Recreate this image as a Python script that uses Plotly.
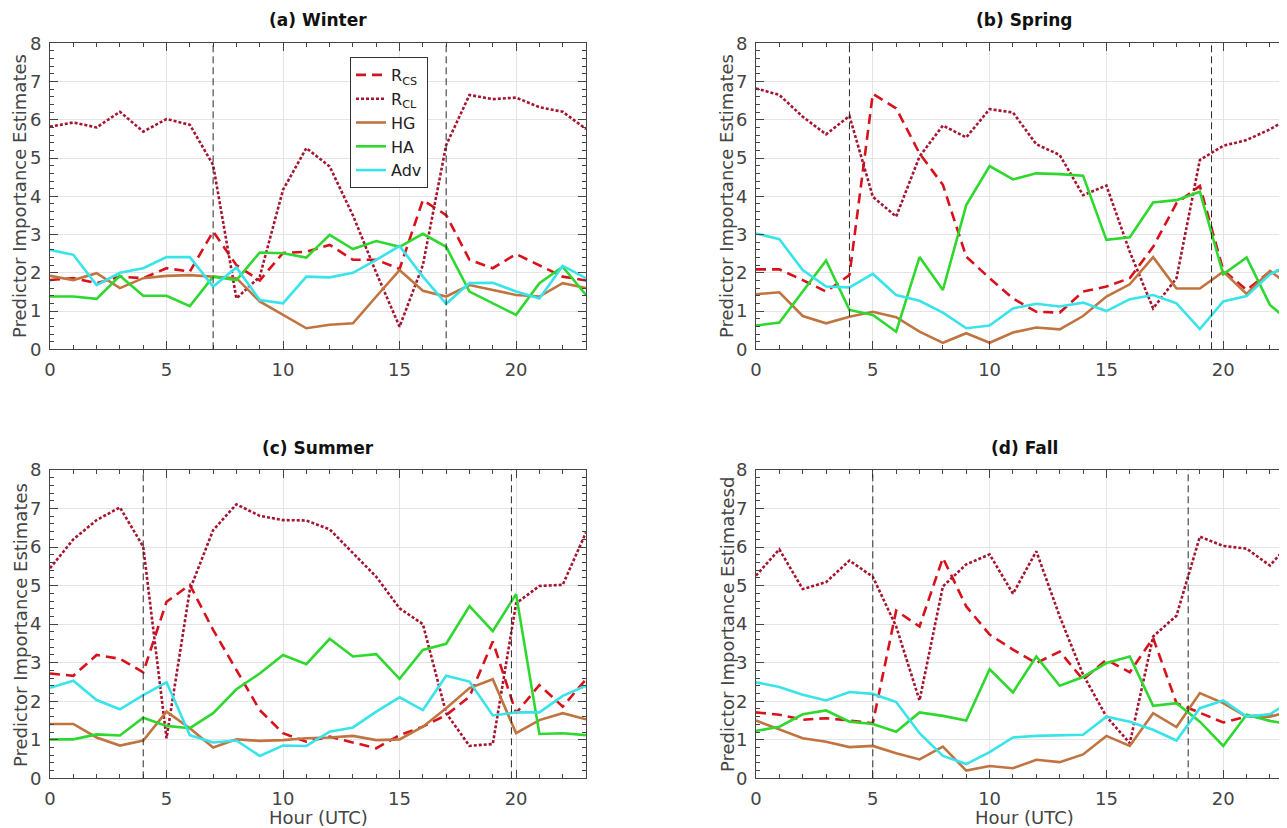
import plotly.graph_objects as go

hours = list(range(24))
series_names = ["R<sub>CS</sub>", "R<sub>CL</sub>", "HG", "HA", "Adv"]

# ---- (a) Winter ----
winter_rcs = [1.81, 1.86, 1.73, 1.90, 1.86, 2.12, 2.03, 3.08, 2.2, 1.8, 2.52, 2.55, 2.73, 2.34, 2.34, 2.1, 3.90, 3.51, 2.34, 2.12, 2.49, 2.2, 1.9, 1.8]
winter_rcl = [5.82, 5.93, 5.80, 6.21, 5.69, 6.02, 5.87, 4.82, 1.33, 1.9, 4.17, 5.26, 4.78, 3.5, 2.0, 0.59, 2.2, 5.34, 6.65, 6.54, 6.58, 6.33, 6.21, 5.76]
winter_hg = [1.92, 1.81, 1.99, 1.60, 1.86, 1.92, 1.94, 1.90, 1.86, 1.25, 0.9, 0.55, 0.64, 0.68, 1.38, 2.07, 1.53, 1.38, 1.68, 1.55, 1.42, 1.38, 1.73, 1.6]
winter_ha = [1.38, 1.38, 1.32, 1.92, 1.40, 1.40, 1.13, 1.9, 1.81, 2.53, 2.51, 2.40, 2.99, 2.62, 2.83, 2.68, 3.02, 2.68, 1.51, 1.20, 0.9, 1.73, 2.16, 1.42]
winter_adv = [2.6, 2.47, 1.68, 2.0, 2.12, 2.41, 2.41, 1.64, 2.14, 1.29, 1.2, 1.9, 1.88, 2.0, 2.34, 2.70, 1.9, 1.19, 1.73, 1.74, 1.51, 1.33, 2.18, 1.86]

# ---- (b) Spring ----
spring_rcs = [2.09, 2.09, 1.81, 1.51, 1.94, 6.68, 6.30, 5.12, 4.30, 2.42, 1.86, 1.33, 0.98, 0.96, 1.51, 1.64, 1.86, 2.68, 3.82, 4.27, 2.07, 1.55, 2.03, 2.1]
spring_rcl = [6.82, 6.65, 6.08, 5.62, 6.10, 3.99, 3.47, 5.04, 5.85, 5.54, 6.28, 6.19, 5.36, 5.08, 4.03, 4.28, 2.55, 1.07, 1.86, 4.95, 5.32, 5.47, 5.75, 6.1]
spring_hg = [1.44, 1.49, 0.87, 0.68, 0.85, 0.98, 0.84, 0.46, 0.17, 0.42, 0.17, 0.44, 0.57, 0.52, 0.87, 1.38, 1.7, 2.41, 1.59, 1.59, 2.03, 1.45, 2.05, 1.6]
spring_ha = [0.62, 0.70, 1.51, 2.32, 1.03, 0.90, 0.46, 2.41, 1.55, 3.77, 4.79, 4.44, 4.60, 4.58, 4.54, 2.86, 2.93, 3.84, 3.90, 4.12, 1.96, 2.40, 1.16, 0.65]
spring_adv = [3.03, 2.88, 2.07, 1.64, 1.62, 1.97, 1.42, 1.27, 0.96, 0.55, 0.62, 1.07, 1.19, 1.12, 1.22, 1.0, 1.31, 1.42, 1.20, 0.53, 1.25, 1.39, 1.96, 2.25]

# ---- (c) Summer ----
summer_rcs = [2.72, 2.66, 3.2, 3.1, 2.75, 4.58, 5.02, 3.85, 2.81, 1.77, 1.17, 0.95, 1.08, 0.93, 0.78, 1.12, 1.34, 1.64, 2.12, 3.55, 1.69, 2.42, 1.86, 2.57]
summer_rcl = [5.45, 6.2, 6.7, 7.03, 6.01, 1.04, 4.89, 6.44, 7.11, 6.81, 6.70, 6.69, 6.46, 5.84, 5.23, 4.41, 4.0, 1.69, 0.84, 0.89, 4.54, 4.99, 5.02, 6.38]
summer_hg = [1.41, 1.41, 1.06, 0.85, 0.98, 1.73, 1.30, 0.80, 1.01, 0.97, 0.99, 1.04, 1.06, 1.10, 0.99, 1.01, 1.34, 1.82, 2.34, 2.57, 1.17, 1.51, 1.69, 1.53]
summer_ha = [1.01, 1.01, 1.14, 1.11, 1.57, 1.36, 1.30, 1.69, 2.31, 2.72, 3.2, 2.96, 3.62, 3.16, 3.22, 2.58, 3.33, 3.49, 4.47, 3.82, 4.78, 1.15, 1.17, 1.12]
summer_adv = [2.35, 2.53, 2.03, 1.79, 2.16, 2.49, 1.12, 0.93, 0.98, 0.58, 0.85, 0.84, 1.21, 1.32, 1.73, 2.10, 1.77, 2.66, 2.51, 1.63, 1.71, 1.71, 2.14, 2.40]

# ---- (d) Fall ----
fall_rcs = [1.71, 1.65, 1.52, 1.56, 1.50, 1.43, 4.35, 3.94, 5.72, 4.46, 3.73, 3.34, 2.99, 3.29, 2.56, 3.08, 2.75, 3.64, 1.95, 1.69, 1.45, 1.60, 1.65, 1.65]
fall_rcl = [5.26, 5.94, 4.91, 5.09, 5.65, 5.23, 3.94, 2.02, 4.98, 5.55, 5.81, 4.79, 5.89, 4.2, 2.69, 1.60, 0.91, 3.68, 4.22, 6.27, 6.03, 5.96, 5.52, 6.2]
fall_hg = [1.50, 1.27, 1.04, 0.95, 0.81, 0.84, 0.65, 0.49, 0.82, 0.20, 0.32, 0.26, 0.48, 0.42, 0.62, 1.10, 0.84, 1.69, 1.33, 2.21, 1.95, 1.60, 1.60, 1.75]
fall_ha = [1.23, 1.34, 1.66, 1.76, 1.47, 1.41, 1.21, 1.71, 1.62, 1.50, 2.83, 2.23, 3.16, 2.40, 2.63, 2.99, 3.16, 1.88, 1.95, 1.47, 0.84, 1.65, 1.49, 1.38]
fall_adv = [2.49, 2.37, 2.17, 2.02, 2.24, 2.19, 1.98, 1.17, 0.58, 0.37, 0.68, 1.06, 1.10, 1.11, 1.13, 1.60, 1.47, 1.26, 0.98, 1.82, 2.02, 1.60, 1.66, 2.05]

panel_titles = ["(a) Winter", "(b) Spring", "(c) Summer", "(d) Fall"]
y_labels = ["Predictor Importance Estimates", "Predictor Importance Estimates",
            "Predictor Importance Estimates", "Predictor Importance Estimatesd"]
transition_hours = [[7, 17], [4, 19.5], [4, 19.8], [5, 18.5]]

panels = [
    [winter_rcs, winter_rcl, winter_hg, winter_ha, winter_adv],
    [spring_rcs, spring_rcl, spring_hg, spring_ha, spring_adv],
    [summer_rcs, summer_rcl, summer_hg, summer_ha, summer_adv],
    [fall_rcs, fall_rcl, fall_hg, fall_ha, fall_adv],
]

colors = ["#d8121c", "#a51530", "#c07440", "#2ed82e", "#38e3ea"]
dashes = ["10px,6px", "3px,2px", "solid", "solid", "solid"]

# page has an 8px body margin; figure covers the rest of the 1287x828 window
OFF = 8
W, H = 1287 - OFF, 828 - OFF
FONT = "DejaVu Sans"
TXT = "#444444"


def px(x):
    return (x - OFF) / W


def py(y):
    return 1 - (y - OFF) / H


xdom_left = [px(50), px(586)]
xdom_right = [px(756), 1.0]
ydom_top = [py(349.3), py(43.3)]
ydom_bot = [py(778.3), py(470)]
xdoms = [xdom_left, xdom_right, xdom_left, xdom_right]
ydoms = [ydom_top, ydom_top, ydom_bot, ydom_bot]
xranges = [[0, 23], [0, 22.73], [0, 23], [0, 22.73]]

fig = go.Figure()

for p in range(4):
    ax = "" if p == 0 else str(p + 1)
    for s in range(5):
        fig.add_trace(go.Scatter(
            x=hours, y=panels[p][s], mode="lines",
            name=series_names[s],
            line=dict(color=colors[s], width=2.6, dash=dashes[s]),
            showlegend=(p == 0),
            xaxis="x" + ax, yaxis="y" + ax,
        ))
    for h in transition_hours[p]:
        fig.add_shape(type="line", xref="x" + ax, yref="y" + ax + " domain",
                      x0=h, x1=h, y0=0, y1=1, layer="above",
                      line=dict(color="#2a2a2a", width=1, dash="7px,4px"))

layout = dict(
    width=W, height=H,
    margin=dict(l=0, r=0, t=0, b=0),
    paper_bgcolor="white", plot_bgcolor="white",
    font=dict(family=FONT, size=17, color=TXT),
    legend=dict(x=px(350), y=py(57), xanchor="left", yanchor="top",
                bgcolor="white", bordercolor="#333333", borderwidth=1,
                font=dict(family=FONT, size=16, color="#222222"),
                itemwidth=30, tracegroupgap=0),
)

for p in range(4):
    ax = "" if p == 0 else str(p + 1)
    right_cut = p in (1, 3)
    layout["xaxis" + ax] = dict(
        domain=xdoms[p], range=xranges[p], anchor="y" + ax,
        tickmode="array", tickvals=[0, 5, 10, 15, 20],
        ticks="inside", ticklen=8, tickcolor="#444444",
        minor=dict(dtick=1, ticks="inside", ticklen=4, tickcolor="#444444", showgrid=False),
        showline=True, linecolor="#444444", linewidth=1, mirror="ticks",
        showgrid=True, gridcolor="#e4e4e4", gridwidth=1, zeroline=False,
        tickfont=dict(family=FONT, size=18, color=TXT), ticklabelstandoff=4,
        automargin=False,
    )
    layout["yaxis" + ax] = dict(
        domain=ydoms[p], range=[0, 8], anchor="x" + ax,
        tickmode="array", tickvals=list(range(9)),
        ticks="inside", ticklen=8, tickcolor="#444444",
        minor=dict(dtick=0.2, ticks="inside", ticklen=4, tickcolor="#444444", showgrid=False),
        showline=True, linecolor="#444444", linewidth=1,
        mirror=False if right_cut else "ticks",
        showgrid=True, gridcolor="#e4e4e4", gridwidth=1, zeroline=False,
        tickfont=dict(family=FONT, size=18, color=TXT), ticklabelstandoff=4,
        automargin=False,
    )

fig.update_layout(**layout)

# titles and axis labels
centers_x = [px(318), px(1024), px(318), px(1024)]
title_y = [py(20), py(20), py(448), py(448)]
ylabel_y = [py(196), py(196), py(625), py(625)]
ylabel_x = [px(20), px(727), px(20), px(727)]
for p in range(4):
    fig.add_annotation(text="<b>" + panel_titles[p] + "</b>", xref="paper", yref="paper",
                       x=centers_x[p], y=title_y[p], xanchor="center", yanchor="middle",
                       showarrow=False, font=dict(family=FONT, size=17, color="#111111"))
    fig.add_annotation(text=y_labels[p], xref="paper", yref="paper",
                       x=ylabel_x[p], y=ylabel_y[p], xanchor="center", yanchor="middle",
                       showarrow=False, textangle=-90,
                       font=dict(family=FONT, size=18, color=TXT))
for p in (2, 3):
    fig.add_annotation(text="Hour (UTC)", xref="paper", yref="paper",
                       x=centers_x[p], y=py(817), xanchor="center", yanchor="middle",
                       showarrow=False, font=dict(family=FONT, size=18, color=TXT))

fig.write_html("out.html")
